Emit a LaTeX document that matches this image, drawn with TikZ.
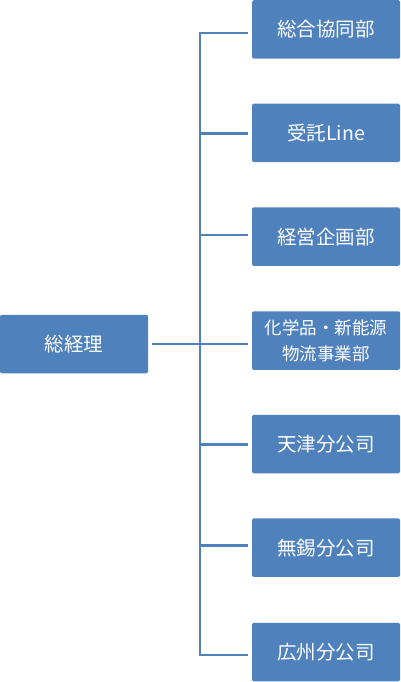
\documentclass[tikz,border=0pt]{standalone}
\usepackage{fontspec}
\setmainfont{Noto Sans CJK JP}
\definecolor{boxblue}{HTML}{4F81BD}
\tikzset{
  orgbox/.style={fill=boxblue, draw=none, rounded corners=1.5bp, minimum width=148bp, minimum height=58.5bp, inner sep=0pt, text=white, font=\fontsize{19.5bp}{24bp}\selectfont, align=center},
  smalltext/.style={font=\fontsize{17.5bp}{26bp}\selectfont},
  link/.style={draw=boxblue, line width=2.7bp}
}
\begin{document}
\begin{tikzpicture}[x=1bp,y=-1bp]
\useasboundingbox (0,0) rectangle (400,682);
\node[orgbox] (root) at (74,344) {総経理};
\node[orgbox] (b1) at (326,29.5) {総合協同部};
\node[orgbox] (b2) at (326,132.8) {受託Line};
\node[orgbox] (b3) at (326,236.6) {経営企画部};
\node[orgbox, smalltext] (b4) at (326,340.5) {化学品・新能源\\物流事業部};
\node[orgbox] (b5) at (326,444) {天津分公司};
\node[orgbox] (b6) at (326,547.7) {無錫分公司};
\node[orgbox] (b7) at (326,652) {広州分公司};
\foreach \n/\y in {1/33,2/133.3,3/235,4/344,5/444.3,6/545.7,7/655}{
  \coordinate (j\n) at (200,\y);
  \coordinate (e\n) at (248,\y);
}
\coordinate (r) at (152,344);
\draw[link] (e1) -- (j1) -- (j7) -- (e7);
\draw[link] (r) -- (e4);
\foreach \n in {2,3,5,6}{
  \draw[link] (j\n) -- (e\n);
}
\end{tikzpicture}
\end{document}
